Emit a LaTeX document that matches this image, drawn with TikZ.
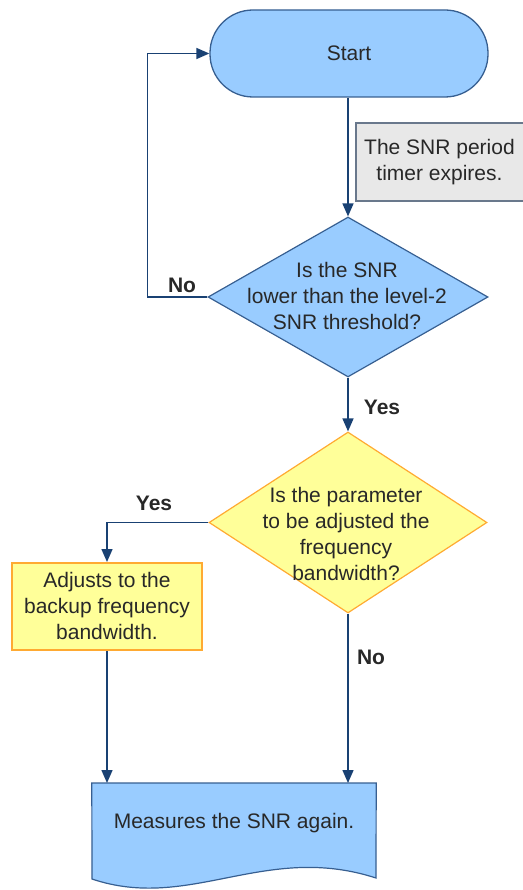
\documentclass[tikz,border=0pt]{standalone}
\usepackage{fontspec}
\setmainfont{Liberation Sans}
\usetikzlibrary{arrows.meta,shapes.geometric}
\definecolor{navy}{RGB}{25,65,115}
\definecolor{ink}{RGB}{40,40,40}
\definecolor{bluefill}{RGB}{153,204,255}
\definecolor{blueedge}{RGB}{55,95,145}
\definecolor{yellowfill}{RGB}{255,255,153}
\definecolor{orangeedge}{RGB}{255,170,50}
\definecolor{grayfill}{RGB}{232,232,232}
\definecolor{grayedge}{RGB}{105,120,140}
\begin{document}
\begin{tikzpicture}[x=1pt,y=-1pt,
  every node/.style={text=ink,font=\fontsize{21}{26}\selectfont,align=center},
  flow/.style={draw=navy,line width=1.5pt,-{Triangle[length=13pt,width=11pt]}},
  terminal/.style={draw=blueedge,fill=bluefill,line width=1.3pt,rounded corners=43pt,
    minimum width=278pt,minimum height=87pt,inner sep=0pt},
  note/.style={draw=grayedge,fill=grayfill,line width=1.3pt,inner sep=0pt},
  decblue/.style={diamond,draw=blueedge,fill=bluefill,line width=1.2pt,inner sep=0pt},
  decyellow/.style={diamond,draw=orangeedge,fill=yellowfill,line width=1.2pt,inner sep=0pt},
  process/.style={draw=orangeedge,fill=yellowfill,line width=2pt,inner sep=0pt,
    minimum width=190pt,minimum height=87pt},
  lbl/.style={font=\bfseries\fontsize{21}{26}\selectfont}
]
\useasboundingbox (0,0) rectangle (522,890);

% start terminal and trigger note (the note runs off the right edge)
\node[terminal] (start) at (349,53.5) {Start};
\node[note,minimum width=170pt,minimum height=78pt] (timer) at (441,162) {};
\node (timertxt) at (439.5,162) {The SNR period\\timer expires.};

% first decision
\node[decblue,minimum width=280pt,minimum height=160pt] (q1) at (348,297) {};
\node (q1txt) at (347,296) {Is the SNR\\lower than the level-2\\SNR threshold?};

% second decision
\node[decyellow,minimum width=278pt,minimum height=181pt] (q2) at (348,522.5) {};
\node (q2txt) at (346,534) {Is the parameter\\to be adjusted the\\frequency\\bandwidth?};

% adjustment step
\node[process] (adj) at (107,606.5) {};
\node (adjtxt) at (107,605.5) {Adjusts to the\\backup frequency\\bandwidth.};

% document shape for the final measurement
\node[minimum width=284pt,minimum height=96pt,inner sep=0pt,anchor=north] (doc) at (234,783) {};
\draw[draw=blueedge,fill=bluefill,line width=1.2pt]
  (doc.north west) -- (doc.north east) -- (376,878)
  .. controls (265,842) and (190,912) .. (92,879) -- cycle;
\node (doctxt) at (234,823) {Measures the SNR again.};

% connectors
\draw[flow] (start.south -| q1.north) -- (q1.north);
\draw[flow] (q1.west) -- ++(-60,0) |- (start.west);
\draw[flow] (q1.south) -- (q2.north);
\draw[flow] (q2.west) -| (adj.north);
\draw[flow] (adj.south) -- (adj.south |- doc.north);
\draw[flow] (q2.south) -- (q2.south |- doc.north);

% branch labels
\node[lbl] (no1) at (182,285) {No};
\node[lbl] (yes1) at (382,407) {Yes};
\node[lbl] (yes2) at (154,503) {Yes};
\node[lbl] (no2) at (371,657) {No};
\end{tikzpicture}
\end{document}
